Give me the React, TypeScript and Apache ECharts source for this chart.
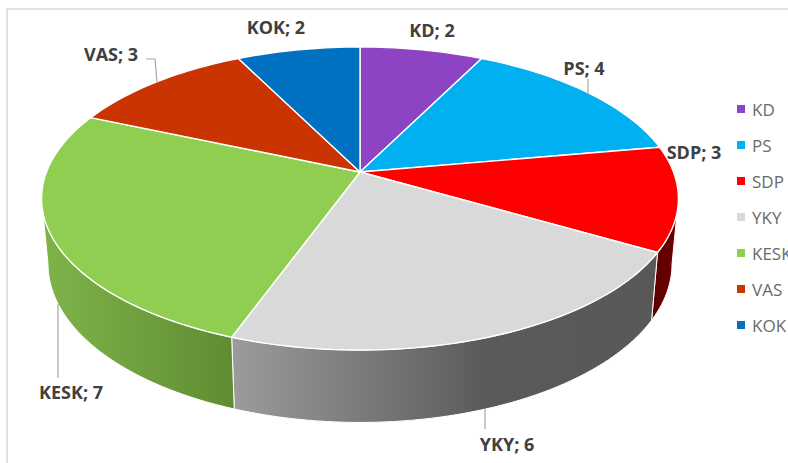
import React, { useEffect, useRef } from "react";
import * as echarts from "echarts";

const parties = ["KD", "PS", "SDP", "YKY", "KESK", "VAS", "KOK"];
const seats = [2, 4, 3, 6, 7, 3, 2];
const topColors = ["#8C44C4", "#00B0F0", "#FF0000", "#D9D9D9", "#8FCE50", "#C93400", "#0070C0"];

const FONT = "'Open Sans', sans-serif";
const TOTAL = seats.reduce((a, b) => a + b, 0);
const RAD = Math.PI / 180;

// Projection of the tilted disc
const CX = 360, CY = 172, A = 313.5, B = 146.9, K = 0.175;
const SIDE_SX = 0.98, SIDE_SY = 1.047, SIDE_D = 64;
const FRONT_FROM = Math.acos(-K) / RAD;
const FRONT_TO = 360 - FRONT_FROM;

function rim(deg: number): number[] {
  const s = Math.sin(deg * RAD), c = Math.cos(deg * RAD), w = 1 + K * c;
  return [CX + (A * s) / w, CY - (B * c) / w];
}
function lower(p: number[]): number[] {
  return [CX + SIDE_SX * (p[0] - CX), CY + SIDE_D + SIDE_SY * (p[1] - CY)];
}
function arc(from: number, to: number): number[][] {
  const n = Math.max(2, Math.ceil((to - from) / 1.5));
  const pts: number[][] = [];
  for (let i = 0; i <= n; i++) pts.push(rim(from + ((to - from) * i) / n));
  return pts;
}

// Side face fills, by party
const sideFills: Record<string, () => any> = {
  SDP: () => new echarts.graphic.LinearGradient(0, 0, 1, 0, [
    { offset: 0, color: "#5C0000" }, { offset: 1, color: "#6E0000" },
  ]),
  YKY: () => new echarts.graphic.LinearGradient(0, 0, 1, 0, [
    { offset: 0, color: "#9C9C9C" }, { offset: 0.6, color: "#5A5A5A" }, { offset: 1, color: "#585858" },
  ]),
  KESK: () => new echarts.graphic.LinearGradient(0, 0, 1, 0, [
    { offset: 0, color: "#80B44A" }, { offset: 1, color: "#5F8C32" },
  ]),
};

// Label centres and leader lines
const labelAt: Record<string, number[]> = {
  KD: [432, 30], PS: [584, 68], SDP: [694, 152], YKY: [507, 444],
  KESK: [71, 392], VAS: [111, 54], KOK: [276, 27],
};
const leaders: Record<string, number[][]> = {
  PS: [[588, 79], [588, 94]],
  YKY: [[485, 409], [485, 429]],
  KESK: [[58, 304], [58, 378]],
  VAS: [[146, 59], [155, 59], [157, 82]],
};

export default function App() {
  const ref = useRef<HTMLDivElement>(null);
  useEffect(() => {
    document.body.style.margin = "0";
    const chart = echarts.init(ref.current!, undefined, { renderer: "svg" });
    let cum = 0;
    const series = parties.map((name, i) => {
      const from = (cum / TOTAL) * 360;
      cum += seats[i];
      const to = (cum / TOTAL) * 360;
      return {
        type: "custom",
        name,
        coordinateSystem: "none",
        silent: true,
        itemStyle: { color: topColors[i] },
        data: [seats[i]],
        renderItem: (_params: any, api: any) => {
          const value = api.value(0);
          const children: any[] = [];
          const a = Math.max(from, FRONT_FROM), b = Math.min(to, FRONT_TO);
          if (b > a) {
            const upper = arc(a, b);
            const bottom = upper.map(lower).reverse();
            children.push({
              type: "polygon",
              shape: { points: upper.concat(bottom) },
              style: { fill: sideFills[name] ? sideFills[name]() : topColors[i], stroke: "#FFFFFF", lineWidth: 1 },
            });
          }
          children.push({
            type: "polygon",
            shape: { points: [[CX, CY], ...arc(from, to)] },
            style: { fill: topColors[i], stroke: "#FFFFFF", lineWidth: 1.4, lineJoin: "round" },
          });
          if (leaders[name]) {
            children.push({
              type: "polyline",
              z2: 50,
              shape: { points: leaders[name] },
              style: { fill: "none", stroke: "#A6A6A6", lineWidth: 1.2 },
            });
          }
          children.push({
            type: "text",
            z2: 100,
            x: labelAt[name][0],
            y: labelAt[name][1],
            style: {
              text: `${name}; ${value}`,
              fill: "#404040",
              font: `bold 18px ${FONT}`,
              align: "center",
              verticalAlign: "middle",
            },
          });
          return { type: "group", children };
        },
      };
    });
    chart.setOption({
      animation: false,
      legend: {
        data: parties,
        orient: "vertical",
        left: 737,
        top: 98,
        padding: 0,
        itemWidth: 8,
        itemHeight: 8,
        itemGap: 14,
        icon: "rect",
        selectedMode: false,
        formatter: (n: string) => n,
        textStyle: { color: "#6A6A6A", fontSize: 17, fontFamily: FONT, padding: [0, 0, 0, 2], height: 22, lineHeight: 22 },
      },
      graphic: [
        {
          type: "rect",
          silent: true,
          z: -10,
          shape: { x: 7, y: 9, width: 800, height: 500 },
          style: { fill: "none", stroke: "#DADADA", lineWidth: 1.6 },
        },
      ],
      series,
    });
    return () => chart.dispose();
  }, []);
  return <div ref={ref} style={{ width: 788, height: 463, background: "#fff" }} />;
}
